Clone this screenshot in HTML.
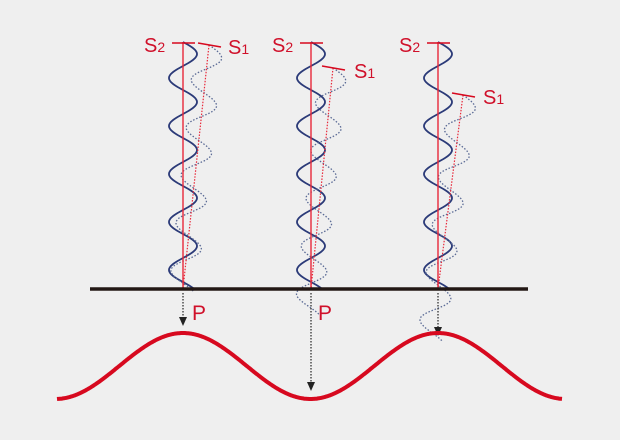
<!DOCTYPE html>
<html><head><meta charset="utf-8"><style>
body{margin:0;background:#efefef}
svg{display:block}
text{font-family:"Liberation Sans",sans-serif;fill:#d0102a}
</style></head><body>
<svg id="s" width="620" height="440" viewBox="0 0 620 440" xmlns="http://www.w3.org/2000/svg">
<g id="g"></g>
<line x1="90" y1="289" x2="528" y2="289" stroke="#231815" stroke-width="3.5"/>
<path id="sine" fill="none" stroke="#d7091f" stroke-width="4"/>
<text x="144" y="52" font-size="20">S<tspan font-size="14">2</tspan></text>
<text x="228" y="54" font-size="20">S<tspan font-size="14">1</tspan></text>
<text x="272" y="52" font-size="20">S<tspan font-size="14">2</tspan></text>
<text x="354" y="78" font-size="20">S<tspan font-size="14">1</tspan></text>
<text x="399" y="52" font-size="20">S<tspan font-size="14">2</tspan></text>
<text x="483" y="104" font-size="20">S<tspan font-size="14">1</tspan></text>
<text x="192" y="320" font-size="21">P</text>
<text x="318" y="320" font-size="21">P</text>
</svg>
<script>
var NS="http://www.w3.org/2000/svg",g=document.getElementById('g');
function el(n,a){var e=document.createElementNS(NS,n);for(var k in a)e.setAttribute(k,a[k]);g.appendChild(e);return e;}
var groups=[[183,209,45],[311,333,68],[438,463,95]];
var P=48,L=247,A=14;
function wave(x0,y0,x1,y1,dash){
  var dx=x1-x0,dy=y1-y0,len=Math.hypot(dx,dy),ux=dx/len,uy=dy/len,nx=-uy,ny=ux;
  var d="";for(var t=0;t<=L;t+=1){var o=A*Math.sin(2*Math.PI*t/P);var x=x0+ux*t-nx*o,y=y0+uy*t-ny*o;d+=(t?"L":"M")+x.toFixed(1)+","+y.toFixed(1);}
  el('path',{d:d,fill:'none',stroke:dash?'#5a6a95':'#2b3a78','stroke-width':dash?1.3:1.8,'stroke-dasharray':dash?'1.5 1.8':'none'});
}
groups.forEach(function(G,i){
  var x=G[0],sx=G[1],sy=G[2];
  wave(x,42,x,289,false);
  wave(sx,sy,x,289,true);
  el('line',{x1:x,y1:42,x2:x,y2:289,stroke:'#e8283a','stroke-width':1.4});
  el('line',{x1:x-11,y1:43,x2:x+12,y2:43,stroke:'#d7091f','stroke-width':1.4});
  el('line',{x1:sx,y1:sy,x2:x,y2:289,stroke:'#e8283a','stroke-width':1.2,'stroke-dasharray':'1.5 1.5'});
  el('line',{x1:sx-11,y1:sy-2,x2:sx+12,y2:sy+2,stroke:'#d7091f','stroke-width':1.4});
  var ye=[326,391,336][i];
  el('line',{x1:x,y1:293,x2:x,y2:ye-8,stroke:'#222','stroke-width':1.2,'stroke-dasharray':'1.5 1.5'});
  el('path',{d:'M'+(x-4)+','+(ye-9)+' L'+(x+4)+','+(ye-9)+' L'+x+','+ye+' Z',fill:'#222'});
});
var d="";for(var x=57;x<=562;x++){var y=366-33*Math.cos(2*Math.PI*(x-183)/255);d+=(x>57?"L":"M")+x+","+y.toFixed(1);}
document.getElementById('sine').setAttribute('d',d);
</script>
</body></html>
